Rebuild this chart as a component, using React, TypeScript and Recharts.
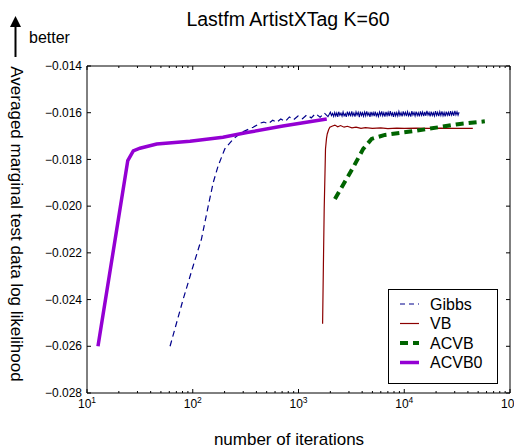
import React from 'react';
import { LineChart, Line, XAxis, YAxis, Legend } from 'recharts';

const FONT = '"Liberation Sans", Arial, Helvetica, sans-serif';

// Gibbs sampler (blue dashed); from BAND_START on the trace is so dense it reads as a solid band
const gibbsIters = [
  61, 81, 101, 121, 140, 156, 174, 201, 241, 290, 373,
  432, 470, 520, 570, 620, 680, 750, 820, 900, 990, 1090, 1200, 1320, 1450, 1600, 1760, 1900,
  2000, 2050, 2100, 2150, 2200, 2250, 2300, 2350, 2400, 2460, 2520, 2580, 2640, 2700, 2770, 2830,
  2900, 2970, 3040, 3110, 3190, 3260, 3340, 3420, 3500, 3580, 3670, 3760, 3850, 3940, 4030, 4120,
  4220, 4320, 4420, 4520, 4630, 4740, 4850, 4960, 5080, 5200, 5320, 5440, 5570, 5700, 5840, 5980,
  6120, 6260, 6410, 6560, 6720, 6880, 7040, 7210, 7380, 7550, 7730, 7910, 8100, 8290, 8490, 8690,
  8900, 9110, 9330, 9550, 9780, 10010, 10250, 10490, 10740, 11000, 11260, 11530, 11800, 12080,
  12370, 12660, 12960, 13270, 13580, 13900, 14230, 14570, 14910, 15270, 15630, 16000, 16380,
  16770, 17170, 17580, 17990, 18420, 18850, 19300, 19750, 20220, 20700, 21190, 21690, 22200,
  22730, 23270, 23820, 24380, 24960, 25550, 26160, 26780, 27410, 28060, 28720, 29400, 30100,
  30810, 31540, 32270, 33000,
];
const gibbsLL = [
  -0.026, -0.024, -0.02255, -0.0214, -0.02, -0.019, -0.01827, -0.01755, -0.01713, -0.01684, -0.01662,
  -0.01645, -0.0164, -0.01647, -0.01632, -0.01641, -0.01627, -0.01637, -0.01618, -0.0163, -0.01614, -0.01626, -0.01609, -0.01622, -0.01604, -0.01619, -0.01602, -0.01617,
  -0.01598, -0.01612, -0.01603, -0.01616, -0.01599, -0.01614, -0.01601, -0.01618, -0.01596, -0.01611, -0.01602, -0.01615, -0.01597, -0.01613, -0.01604, -0.01618,
  -0.01595, -0.01611, -0.01599, -0.01616, -0.01594, -0.01613, -0.01601, -0.01617, -0.01596, -0.0161, -0.01598, -0.01619, -0.01595, -0.01612, -0.01600, -0.01615,
  -0.01597, -0.01613, -0.01594, -0.01611, -0.01601, -0.01618, -0.01596, -0.01612, -0.01599, -0.01615, -0.01595, -0.01614, -0.01602, -0.01616, -0.01597, -0.01611,
  -0.01594, -0.01613, -0.01600, -0.01617, -0.01596, -0.01612, -0.01598, -0.01615, -0.01593, -0.01611, -0.01601, -0.01618, -0.01596, -0.01613, -0.01599, -0.01614,
  -0.01595, -0.01612, -0.01600, -0.01616, -0.01594, -0.01611, -0.01598, -0.01615, -0.01596, -0.01613, -0.01601, -0.01617, -0.01593, -0.01610,
  -0.01599, -0.01614, -0.01595, -0.01612, -0.01600, -0.01616, -0.01594, -0.01611, -0.01597, -0.01615, -0.01596, -0.01613, -0.01592,
  -0.01610, -0.01599, -0.01616, -0.01595, -0.01612, -0.01600, -0.01614, -0.01593, -0.01611, -0.01598, -0.01615, -0.01596, -0.01612,
  -0.01594, -0.01613, -0.01599, -0.01616, -0.01595, -0.01611, -0.01598, -0.01614, -0.01593, -0.01610, -0.01597, -0.01613, -0.01592,
  -0.01609, -0.01596, -0.01611, -0.01598,
];
const BAND_START = 26;

// VB (dark red)
const vbIters = [1690, 1720, 1750, 1780, 1800, 1840, 1870, 1930, 1980, 2100, 2210, 2350, 2500, 2700, 2900, 3200, 3500, 3900, 4300, 5000, 6000, 7000, 8500, 10000, 13000, 17000, 22000, 30000, 44500];
const vbLL = [-0.02504, -0.0225, -0.0201, -0.0186, -0.01755, -0.0171, -0.01691, -0.01672, -0.01662, -0.01657, -0.01653, -0.0166, -0.01655, -0.01662, -0.01658, -0.01665, -0.01662, -0.01667, -0.01664, -0.01667, -0.01665, -0.01668, -0.01666, -0.01667, -0.01666, -0.01667, -0.01666, -0.01667, -0.01667];

// ACVB (green dashed)
const acvbIters = [2210, 3290, 4090, 4910, 6560, 13060, 33600, 57800];
const acvbLL = [-0.01969, -0.01834, -0.01755, -0.01712, -0.01695, -0.01677, -0.01648, -0.01637];

// ACVB0 (purple)
const acvb0Iters = [12.7, 24.3, 27.4, 31.7, 45.6, 94.2, 193, 325, 712, 1850];
const acvb0LL = [-0.026, -0.01805, -0.01763, -0.01752, -0.01734, -0.01722, -0.01705, -0.01685, -0.01657, -0.01627];

const zip = (xs: number[], ys: number[]) => xs.map((x, i) => ({ x, y: ys[i] }));
const gibbsData = zip(gibbsIters, gibbsLL);

const majorX = [10, 100, 1000, 10000, 100000];
const xTicks: number[] = [];
for (let e = 1; e <= 4; e++) for (let m = 1; m <= 9; m++) xTicks.push(m * 10 ** e);
xTicks.push(100000);
const yTicks = [-0.028, -0.026, -0.024, -0.022, -0.02, -0.018, -0.016, -0.014];

const BottomTick = ({ x, y, payload }: any) => {
  const v = payload.value;
  const major = majorX.includes(v);
  return (
    <g>
      <line x1={x} x2={x} y1={y} y2={y - (major ? 4 : 2)} stroke="#000" />
      {major && (
        <text x={x} y={y + 15} textAnchor="middle" fontSize={12} fontFamily={FONT} fill="#000">
          10<tspan dy={-5} fontSize={8.5}>{Math.round(Math.log10(v))}</tspan>
        </text>
      )}
    </g>
  );
};

const TopTick = ({ x, y, payload }: any) => {
  const major = majorX.includes(payload.value);
  return <line x1={x} x2={x} y1={y} y2={y + (major ? 4 : 2)} stroke="#000" />;
};

const LeftTick = ({ x, y, payload }: any) => (
  <g>
    <line x1={x} x2={x + 4} y1={y} y2={y} stroke="#000" />
    <text x={x - 5} y={y} dy="0.35em" textAnchor="end" fontSize={12} fontFamily={FONT} fill="#000">
      {payload.value.toFixed(3).replace('-', '\u2212')}
    </text>
  </g>
);

const RightTick = ({ x, y }: any) => <line x1={x} x2={x - 4} y1={y} y2={y} stroke="#000" />;

const legendRows = [
  { name: 'Gibbs', color: '#00008b', width: 1.2, dash: '5 4' },
  { name: 'VB', color: '#8b0000', width: 1.2, dash: undefined },
  { name: 'ACVB', color: '#006400', width: 4, dash: '8 5' },
  { name: 'ACVB0', color: '#9400d3', width: 3.5, dash: undefined },
];

const LegendBox = () => (
  <svg width={110} height={95}>
    <rect x={0.5} y={0.5} width={109} height={94} fill="#fff" stroke="#000" />
    {legendRows.map((r, i) => {
      const cy = 15 + i * 19.5;
      return (
        <g key={r.name}>
          <line x1={12} x2={31} y1={cy} y2={cy} stroke={r.color} strokeWidth={r.width} strokeDasharray={r.dash} />
          <text x={42} y={cy} dy="0.35em" fontSize={16} fontFamily={FONT} fill="#000">{r.name}</text>
        </g>
      );
    })}
  </svg>
);

export default function App() {
  return (
    <div style={{ position: 'absolute', left: 0, top: 0, width: 514, height: 448, background: '#fff' }}>
      <LineChart width={514} height={448} margin={{ top: 56, right: 0, bottom: 25, left: 27 }}>
        <XAxis dataKey="x" type="number" scale="log" domain={[10, 100000]} ticks={xTicks} interval={0}
          allowDataOverflow height={30} tickSize={0} tickMargin={0} tickLine={false}
          axisLine={{ stroke: '#000' }} tick={<BottomTick />} />
        <XAxis xAxisId="top" orientation="top" dataKey="x" type="number" scale="log" domain={[10, 100000]}
          ticks={xTicks} interval={0} allowDataOverflow height={10} tickSize={0} tickMargin={0} tickLine={false}
          axisLine={{ stroke: '#000' }} tick={<TopTick />} />
        <YAxis type="number" domain={[-0.028, -0.014]} ticks={yTicks} interval={0} allowDataOverflow
          width={60} tickSize={0} tickMargin={0} tickLine={false} axisLine={{ stroke: '#000' }} tick={<LeftTick />} />
        <YAxis yAxisId="right" orientation="right" type="number" domain={[-0.028, -0.014]} ticks={yTicks}
          interval={0} allowDataOverflow width={4} tickSize={0} tickMargin={0} tickLine={false}
          axisLine={{ stroke: '#000' }} tick={<RightTick />} />
        <Line data={gibbsData.slice(0, BAND_START + 1)} dataKey="y" name="Gibbs" stroke="#00008b" strokeWidth={1.2}
          strokeDasharray="6 4" dot={false} isAnimationActive={false} />
        <Line data={gibbsData.slice(BAND_START)} dataKey="y" name="Gibbs band" legendType="none" stroke="#00008b"
          strokeWidth={1.1} dot={false} isAnimationActive={false} />
        <Line data={zip(vbIters, vbLL)} dataKey="y" name="VB" stroke="#8b0000" strokeWidth={1.2}
          dot={false} isAnimationActive={false} />
        <Line data={zip(acvbIters, acvbLL)} dataKey="y" name="ACVB" stroke="#006400" strokeWidth={4}
          strokeDasharray="8 5" dot={false} isAnimationActive={false} />
        <Line data={zip(acvb0Iters, acvb0LL)} dataKey="y" name="ACVB0" stroke="#9400d3" strokeWidth={3.5}
          dot={false} isAnimationActive={false} />
        <Legend layout="vertical" align="center" verticalAlign="middle" content={<LegendBox />}
          wrapperStyle={{ left: 388, top: 289, width: 110, height: 95 }} />
      </LineChart>
      <svg width={514} height={448} style={{ position: 'absolute', left: 0, top: 0, pointerEvents: 'none' }}>
        <text x={288} y={26} textAnchor="middle" fontSize={19.5} fontFamily={FONT} fill="#000">Lastfm ArtistXTag K=60</text>
        <line x1={15.5} x2={15.5} y1={57} y2={25} stroke="#000" strokeWidth={2} />
        <polygon points="15.5,16 10,27 21,27" fill="#000" />
        <text x={29} y={42.5} fontSize={16} fontFamily={FONT} fill="#000">better</text>
        <text x={0} y={0} transform="translate(16.5,224) rotate(90)" textAnchor="middle" dy="0.35em"
          fontSize={17} fontFamily={FONT} fill="#000">Averaged marginal test data log likelihood</text>
        <text x={289} y={445} textAnchor="middle" fontSize={17} fontFamily={FONT} fill="#000">number of iterations</text>
      </svg>
    </div>
  );
}
